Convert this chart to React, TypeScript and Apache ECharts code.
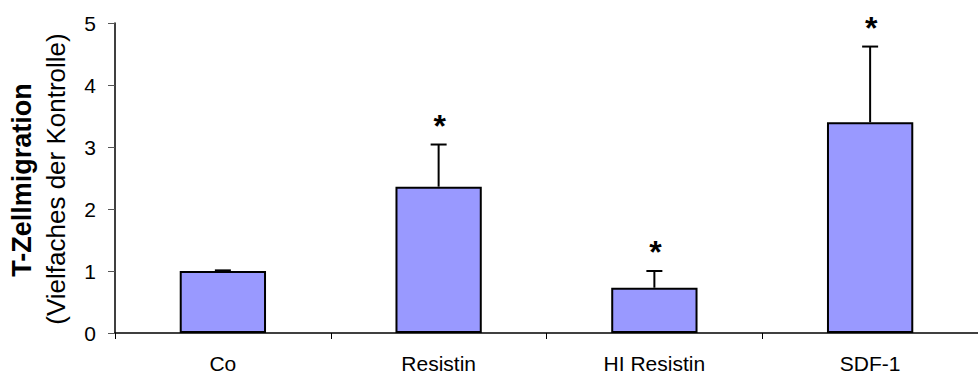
import React, { useEffect, useRef } from "react";
import * as echarts from "echarts";

const categories = ["Co", "Resistin", "HI Resistin", "SDF-1"];
const means = [1.0, 2.36, 0.73, 3.4];
const errors = [0.01, 0.68, 0.27, 1.22];
const significant = [false, true, true, true];
const yTicks = [0, 1, 2, 3, 4, 5];

const FONT = "'Liberation Sans', Arial, sans-serif";

export default function App() {
  const ref = useRef<HTMLDivElement>(null);
  useEffect(() => {
    if (!ref.current) return;
    const chart = echarts.init(ref.current, null, { renderer: "svg" });
    const errData = categories.map((_, i) => [i, means[i], means[i] + errors[i], significant[i] ? 1 : 0]);
    chart.setOption({
      animation: false,
      backgroundColor: "#ffffff",
      grid: { left: 115, top: 23, width: 872, height: 311, containLabel: false },
      xAxis: {
        type: "category",
        data: categories,
        boundaryGap: true,
        axisLine: { show: true, lineStyle: { color: "#000", width: 1.5 } },
        axisTick: { show: true, length: 6, alignWithLabel: false, lineStyle: { color: "#000", width: 1 } },
        axisLabel: { color: "#000", fontSize: 21, fontFamily: FONT, margin: 20, interval: 0 },
        splitLine: { show: false },
      },
      yAxis: {
        type: "value",
        min: yTicks[0],
        max: yTicks[yTicks.length - 1],
        interval: 1,
        axisLine: { show: true, lineStyle: { color: "#000", width: 1.5 } },
        axisTick: { show: true, length: 7, lineStyle: { color: "#555", width: 1 } },
        axisLabel: { color: "#000", fontSize: 21, fontFamily: FONT, margin: 19 },
        splitLine: { show: false },
      },
      graphic: [
        {
          type: "text",
          x: 22,
          y: 180,
          rotation: Math.PI / 2,
          style: {
            text: "T-Zellmigration",
            font: `bold 27px ${FONT}`,
            fill: "#000",
            textAlign: "center",
            textVerticalAlign: "middle",
          },
        },
        {
          type: "text",
          x: 56,
          y: 179,
          rotation: Math.PI / 2,
          style: {
            text: "(Vielfaches der Kontrolle)",
            font: `26px ${FONT}`,
            fill: "#000",
            textAlign: "center",
            textVerticalAlign: "middle",
          },
        },
      ],
      series: [
        {
          type: "bar",
          data: means,
          barWidth: "40%",
          itemStyle: { color: "#9999ff", borderColor: "#000", borderWidth: 2 },
          z: 2,
        },
        {
          type: "custom",
          data: errData,
          z: 3,
          renderItem: (params: any, api: any) => {
            const idx = api.value(0);
            const base = api.coord([idx, api.value(1)]);
            const top = api.coord([idx, api.value(2)]);
            const sig = api.value(3);
            const cap = 8;
            const children: any[] = [
              {
                type: "line",
                shape: { x1: base[0], y1: base[1], x2: top[0], y2: top[1] },
                style: { stroke: "#000", lineWidth: 2 },
              },
              {
                type: "line",
                shape: { x1: top[0] - cap, y1: top[1], x2: top[0] + cap, y2: top[1] },
                style: { stroke: "#000", lineWidth: 2 },
              },
            ];
            if (sig) {
              children.push({
                type: "text",
                x: top[0] + 1,
                y: top[1] - 19,
                style: {
                  text: "*",
                  font: `bold 32px ${FONT}`,
                  fill: "#000",
                  textAlign: "center",
                  textVerticalAlign: "middle",
                },
              });
            }
            return { type: "group", children };
          },
        },
      ],
    });
    return () => chart.dispose();
  }, []);
  return <div ref={ref} style={{ width: 978, height: 374, position: "absolute", left: 0, top: 0, overflow: "hidden" }} />;
}
